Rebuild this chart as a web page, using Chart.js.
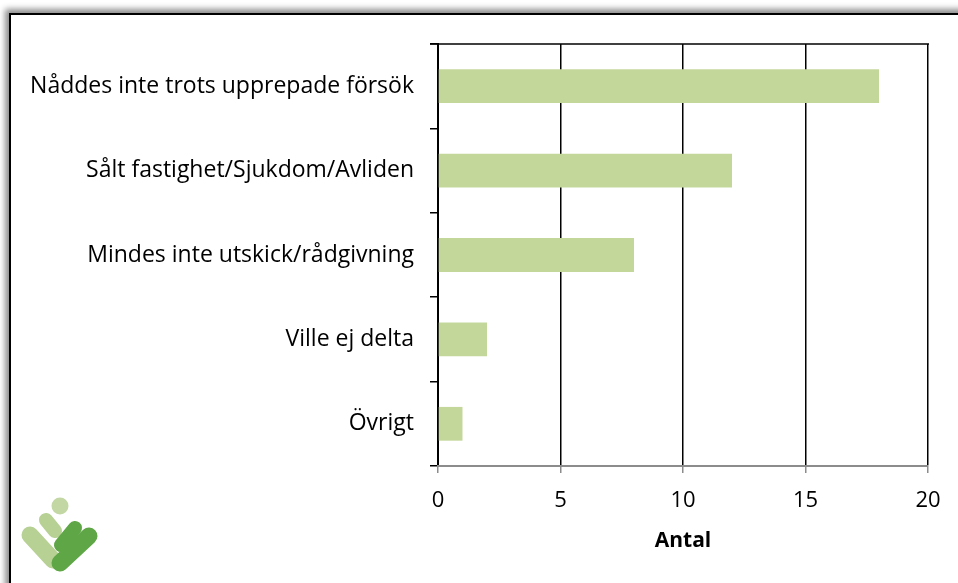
<!DOCTYPE html>
<html>
<head>
<meta charset="utf-8">
<script src="https://cdn.jsdelivr.net/npm/chart.js@4"></script>
<style>
  html, body { margin: 0; padding: 0; background: #fff; overflow: hidden; }
  #frame {
    position: absolute; left: 9px; top: 13px; width: 1000px; height: 640px;
    border: 2px solid #000; box-shadow: -4px -4px 6px rgba(0,0,0,0.45);
    background: #fff;
  }
  #wrap { position: absolute; left: 0; top: 0; width: 958px; height: 583px; }
</style>
</head>
<body>
<div id="frame"></div>
<div id="wrap"><canvas id="chart" width="958" height="583"></canvas></div>
<script>
const categories = [
  "Nåddes inte trots upprepade försök",
  "Sålt fastighet/Sjukdom/Avliden",
  "Mindes inte utskick/rådgivning",
  "Ville ej delta",
  "Övrigt"
];
const counts = [18, 12, 8, 2, 1];
const xTicks = [0, 5, 10, 15, 20];
const xTitle = "Antal";

const fontFamily = "'Open Sans', sans-serif";

// top border of plot area + small logo in the corner
const extras = {
  id: "extras",
  afterDraw(chart) {
    const ctx = chart.ctx;
    const area = chart.chartArea;
    ctx.save();
    ctx.strokeStyle = "#000";
    ctx.lineWidth = 1.5;
    ctx.beginPath();
    ctx.moveTo(area.left - 8, area.top);
    ctx.lineTo(area.right + 1, area.top);
    ctx.stroke();
    ctx.restore();
    drawLogo(ctx);
  }
};

function bar(ctx, x1, y1, x2, y2, w, color) {
  ctx.save();
  ctx.strokeStyle = color;
  ctx.lineWidth = w;
  ctx.lineCap = "round";
  ctx.beginPath();
  ctx.moveTo(x1, y1);
  ctx.lineTo(x2, y2);
  ctx.stroke();
  ctx.restore();
}

function drawLogo(ctx) {
  const light = "#b7d094";
  const dark = "#5ea646";
  ctx.save();
  ctx.fillStyle = "#c2d7a3";
  ctx.beginPath();
  ctx.arc(60, 506, 8.5, 0, Math.PI * 2);
  ctx.fill();
  bar(ctx, 30, 535, 53, 560, 17, light);
  bar(ctx, 46, 520, 55, 531, 14, light);
  bar(ctx, 61, 545, 75, 528, 14, dark);
  bar(ctx, 60, 563, 89, 536, 17, dark);
  ctx.restore();
}

new Chart(document.getElementById("chart"), {
  type: "bar",
  data: {
    labels: categories,
    datasets: [{
      data: counts,
      backgroundColor: "#c4d79b",
      borderWidth: 0,
      barPercentage: 0.4,
      categoryPercentage: 1.0
    }]
  },
  options: {
    indexAxis: "y",
    responsive: false,
    animation: false,
    layout: { padding: { top: 44, right: 30, bottom: 0, left: 0 } },
    plugins: {
      legend: { display: false },
      tooltip: { enabled: false }
    },
    scales: {
      y: {
        afterFit: (s) => { s.width = 438; },
        grid: {
          drawOnChartArea: false,
          color: "#000",
          tickColor: "#000",
          tickLength: 8,
          lineWidth: 1.5,
          offset: true
        },
        border: { color: "#000", width: 2 },
        ticks: {
          color: "#000",
          padding: 16,
          font: { family: fontFamily, size: 23 }
        }
      },
      x: {
        min: 0,
        max: 20,
        afterBuildTicks: (s) => { s.ticks = xTicks.map((v) => ({ value: v })); },
        afterFit: (s) => { s.height = 117; },
        grid: {
          color: "#000",
          tickColor: "#8c8c8c",
          tickLength: 7,
          lineWidth: 1.5
        },
        border: { color: "#8c8c8c", width: 2 },
        ticks: {
          color: "#000",
          padding: 15,
          font: { family: fontFamily, size: 22 }
        },
        title: {
          display: true,
          text: xTitle,
          color: "#000",
          font: { family: fontFamily, size: 21, weight: "bold" },
          padding: { top: 0, bottom: 29 }
        }
      }
    }
  },
  plugins: [extras]
});
</script>
</body>
</html>
